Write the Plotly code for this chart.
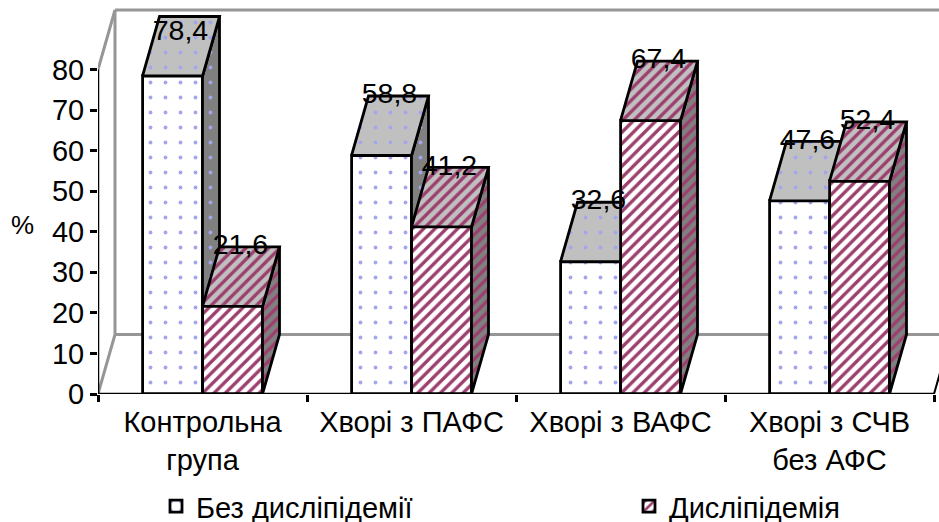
import plotly.graph_objects as go

categories = ["Контрольна<br>група", "Хворі з ПАФС", "Хворі з ВАФС", "Хворі з СЧВ<br>без АФС"]
series_names = ["Без дисліпідемії", "Дисліпідемія"]
no_dyslipidemia = [78.4, 58.8, 32.6, 47.6]
dyslipidemia = [21.6, 41.2, 67.4, 52.4]
y_ticks = [0, 10, 20, 30, 40, 50, 60, 70, 80]

FONT = "Arial, 'Liberation Sans', sans-serif"
L, B, W, H = 98, 128, 939, 522
PX_X = 209.0          # pixels per category
PX_Y = 4.056          # pixels per percent
DX = 17 / PX_X        # oblique depth in category units
DY = 59.5 / PX_Y      # oblique depth in percent units
BAR = 60 / PX_X
x_pos = list(range(len(categories)))
x_max = (W - L) / PX_X - 0.5
y_max = (H - B) / PX_Y
LABEL_CAP = 89.0
EDGE = 2.8
DOT = "#a4a4f0"
STRIPE = "#9c3f6e"


def faces(vals, left):
    top_x, top_y, side_x, side_y = [], [], [], []
    for i, v in zip(x_pos, vals):
        x0 = i + left
        x1 = x0 + BAR
        top_x += [x0, x0 + DX, x1 + DX, x1, x0, None]
        top_y += [v, v + DY, v + DY, v, v, None]
        side_x += [x1, x1 + DX, x1 + DX, x1, x1, None]
        side_y += [0, DY, v + DY, v, 0, None]
    return top_x, top_y, side_x, side_y


def add_series(fig, name, vals, left, shape, size, solidity, fg, top_bg, side_bg, xa, ya, legend):
    fig.add_trace(go.Bar(
        x=x_pos, y=vals, name=name, width=BAR, offset=left, xaxis=xa, yaxis=ya, legend=legend,
        marker=dict(color="white", line=dict(color="black", width=EDGE),
                    pattern=dict(shape=shape, size=size, solidity=solidity,
                                 fgcolor=fg, bgcolor="white", fgopacity=1)),
    ))
    tx, ty, sx, sy = faces(vals, left)
    for px, py, bg in ((sx, sy, side_bg), (tx, ty, top_bg)):
        fig.add_trace(go.Scatter(
            x=px, y=py, mode="lines", fill="toself", showlegend=False, hoverinfo="skip",
            xaxis=xa, yaxis=ya, line=dict(color="black", width=EDGE), fillcolor=bg,
            fillpattern=dict(shape=shape, size=size, solidity=solidity,
                             fgcolor=fg, bgcolor=bg, fgopacity=1),
        ))


fig = go.Figure()
add_series(fig, series_names[0], no_dyslipidemia, -BAR, ".", 15, 0.05, DOT, "#c0c0c0", "#808080", "x", "y", "legend")
add_series(fig, series_names[1], dyslipidemia, 0, "/", 8, 0.42, STRIPE, "#c0c0c0", "#808080", "x2", "y2", "legend2")

for vals, left in ((no_dyslipidemia, -BAR), (dyslipidemia, 0)):
    fig.add_trace(go.Scatter(
        x=[i + left + BAR / 2 + 8 / PX_X for i in x_pos],
        y=[min(v + DY, LABEL_CAP) for v in vals],
        text=[f"{v}".replace(".", ",") for v in vals],
        mode="text", textposition="middle center", showlegend=False, hoverinfo="skip",
        textfont=dict(family=FONT, size=28.5, color="black"), cliponaxis=False,
        xaxis="x2", yaxis="y2",
    ))

WALL = dict(color="#969696", width=3)
y_top = y_ticks[-1]
x_end = x_pos[-1] + 0.5
wall_lines = [
    (-0.5, 0, -0.5 + DX, DY, WALL),
    (-0.5, y_top, -0.5 + DX, y_top + DY, WALL),
    (-0.5 + DX, DY, -0.5 + DX, y_top + DY, WALL),
    (-0.5 + DX, y_top + DY, x_max, y_top + DY, WALL),
    (-0.5 + DX, DY, x_max, DY, WALL),
    (-0.5, 0, -0.5, y_top, dict(color="black", width=2.5)),
    (-0.5, 0, x_end, 0, dict(color="black", width=2.5)),
    (x_end, 0, x_end + DX, DY, dict(color="black", width=2)),
]
shapes = [dict(type="line", xref="x", yref="y", x0=a, y0=b, x1=c, y1=d, line=ln, layer="below")
          for a, b, c, d, ln in wall_lines]

legend_common = dict(orientation="h", y=0.03, xanchor="left", yanchor="middle",
                     xref="container", yref="container",
                     font=dict(family=FONT, size=29), bgcolor="rgba(0,0,0,0)", itemwidth=30)

fig.update_layout(
    width=W, height=H, autosize=False,
    margin=dict(l=L, r=0, t=0, b=B, autoexpand=False),
    paper_bgcolor="white", plot_bgcolor="white",
    font=dict(family=FONT, size=29, color="black"),
    bargap=0, shapes=shapes,
    xaxis=dict(range=[-0.5, x_max], tickmode="array", tickvals=x_pos, ticktext=categories,
               ticklen=2, tickcolor="rgba(0,0,0,0)", showgrid=False, zeroline=False, showline=False,
               tickfont=dict(family=FONT, size=29), ticks="outside",
               minor=dict(tickmode="array", tickvals=[i - 0.5 for i in x_pos] + [x_end],
                          ticks="outside", ticklen=7, tickwidth=2.5, tickcolor="black", showgrid=False)),
    yaxis=dict(range=[0, y_max], tickmode="array", tickvals=y_ticks, ticks="outside", ticklen=7,
               tickwidth=2.5, tickcolor="black", showgrid=False, zeroline=False, showline=False,
               tickfont=dict(family=FONT, size=29), ticklabelstandoff=0),
    xaxis2=dict(overlaying="x", matches="x", visible=False),
    yaxis2=dict(overlaying="y", matches="y", visible=False),
    legend=dict(x=156 / W, **legend_common),
    legend2=dict(x=629 / W, **legend_common),
    annotations=[dict(text="%", xref="paper", yref="y", x=0, xshift=-76, xanchor="center",
                      y=(394 - 225) / PX_Y, showarrow=False, font=dict(family=FONT, size=26))],
)
fig.write_html("out.html", post_script="document.body.style.margin='0';",
               config={"displayModeBar": False})
